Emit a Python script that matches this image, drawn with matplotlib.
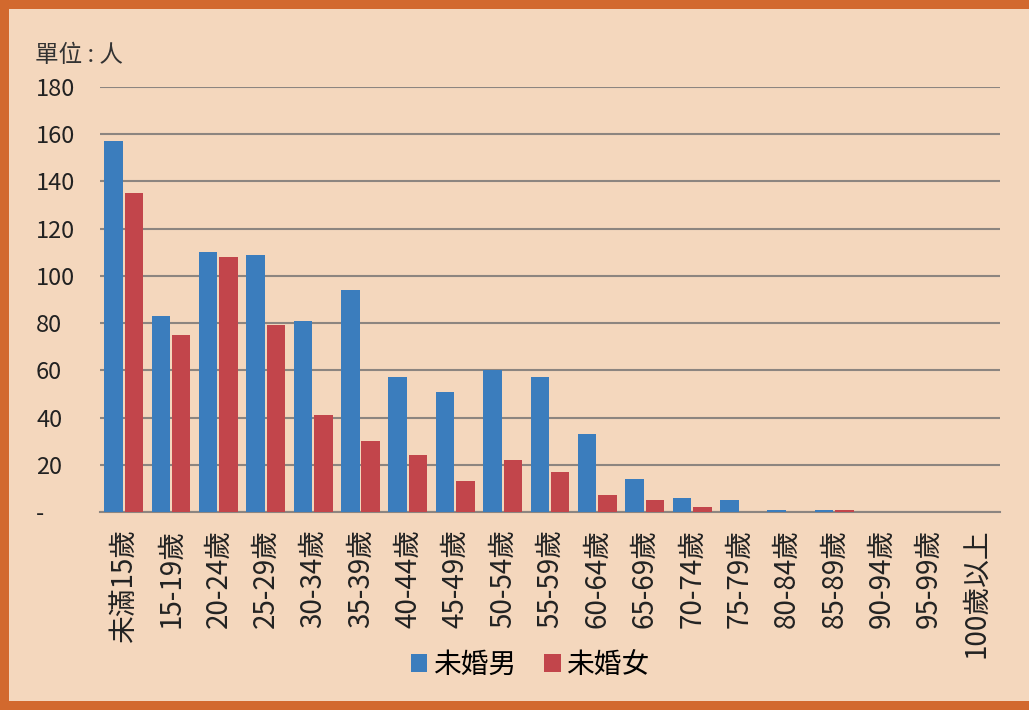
import matplotlib.pyplot as plt
import numpy as np
from matplotlib.patches import Rectangle

plt.rcParams['font.family'] = ['Noto Sans CJK TC', 'DejaVu Sans']

# age groups and counts (persons)
ages = ['未滿15歲', '15-19歲', '20-24歲', '25-29歲', '30-34歲', '35-39歲', '40-44歲',
        '45-49歲', '50-54歲', '55-59歲', '60-64歲', '65-69歲', '70-74歲', '75-79歲',
        '80-84歲', '85-89歲', '90-94歲', '95-99歲', '100歲以上']
male = [157, 83, 110, 109, 81, 94, 57, 51, 60, 57, 33, 14, 6, 5, 1, 1, 0, 0, 0]
female = [135, 75, 108, 79, 41, 30, 24, 13, 22, 17, 7, 5, 2, 0, 0, 1, 0, 0, 0]
yticks = [0, 20, 40, 60, 80, 100, 120, 140, 160, 180]
ytick_labels = ['-'] + [str(v) for v in yticks[1:]]

blue = '#3b7dbd'
red = '#c2454b'
paper = '#f4d7bd'
border = '#d2692e'
grid = '#8c8580'

fig = plt.figure(figsize=(10.29, 7.1), dpi=100)
fig.patch.set_facecolor(border)
# paper background inside the orange frame
fig.add_artist(Rectangle((9 / 1029, 9 / 710), 1 - 9 / 1029, 1 - 18 / 710,
                         transform=fig.transFigure, facecolor=paper,
                         edgecolor='none', zorder=0))

ax = fig.add_axes([100 / 1029, 1 - 512 / 710, 900 / 1029, 425 / 710])
ax.set_facecolor('none')

x = np.arange(len(ages))
w = 0.39
ax.bar(x - 0.215, male, w, color=blue, label='未婚男', zorder=3)
ax.bar(x + 0.215, female, w, color=red, label='未婚女', zorder=3)

ax.set_xlim(-0.5, len(ages) - 0.5)
ax.set_ylim(0, 180)
ax.set_yticks(yticks)
ax.set_yticklabels(ytick_labels, fontsize=17, color='#222222')
ax.yaxis.grid(True, color=grid, linewidth=1.5, zorder=0)
ax.set_axisbelow(True)
ax.tick_params(axis='y', length=0, pad=46)
for lbl in ax.get_yticklabels():
    lbl.set_horizontalalignment('left')
ax.tick_params(axis='x', length=0, pad=12)
ax.set_xticks(x)
ax.set_xticklabels(ages, rotation=90, fontsize=20, color='#222222', va='top')

for s in ['top', 'right', 'left']:
    ax.spines[s].set_visible(False)
ax.spines['bottom'].set_color(grid)
ax.spines['bottom'].set_linewidth(1.5)

fig.text(35 / 1029, 1 - 55 / 710, '單位 : 人', fontsize=17, color='#333333', va='center')

fig.legend(loc='center', bbox_to_anchor=(530 / 1029, 1 - 665 / 710), ncol=2,
           frameon=False, fontsize=20, handlelength=0.6, handleheight=0.6,
           handletextpad=0.2, columnspacing=1.0)

fig.savefig('out.png', dpi=100, facecolor=fig.get_facecolor())
